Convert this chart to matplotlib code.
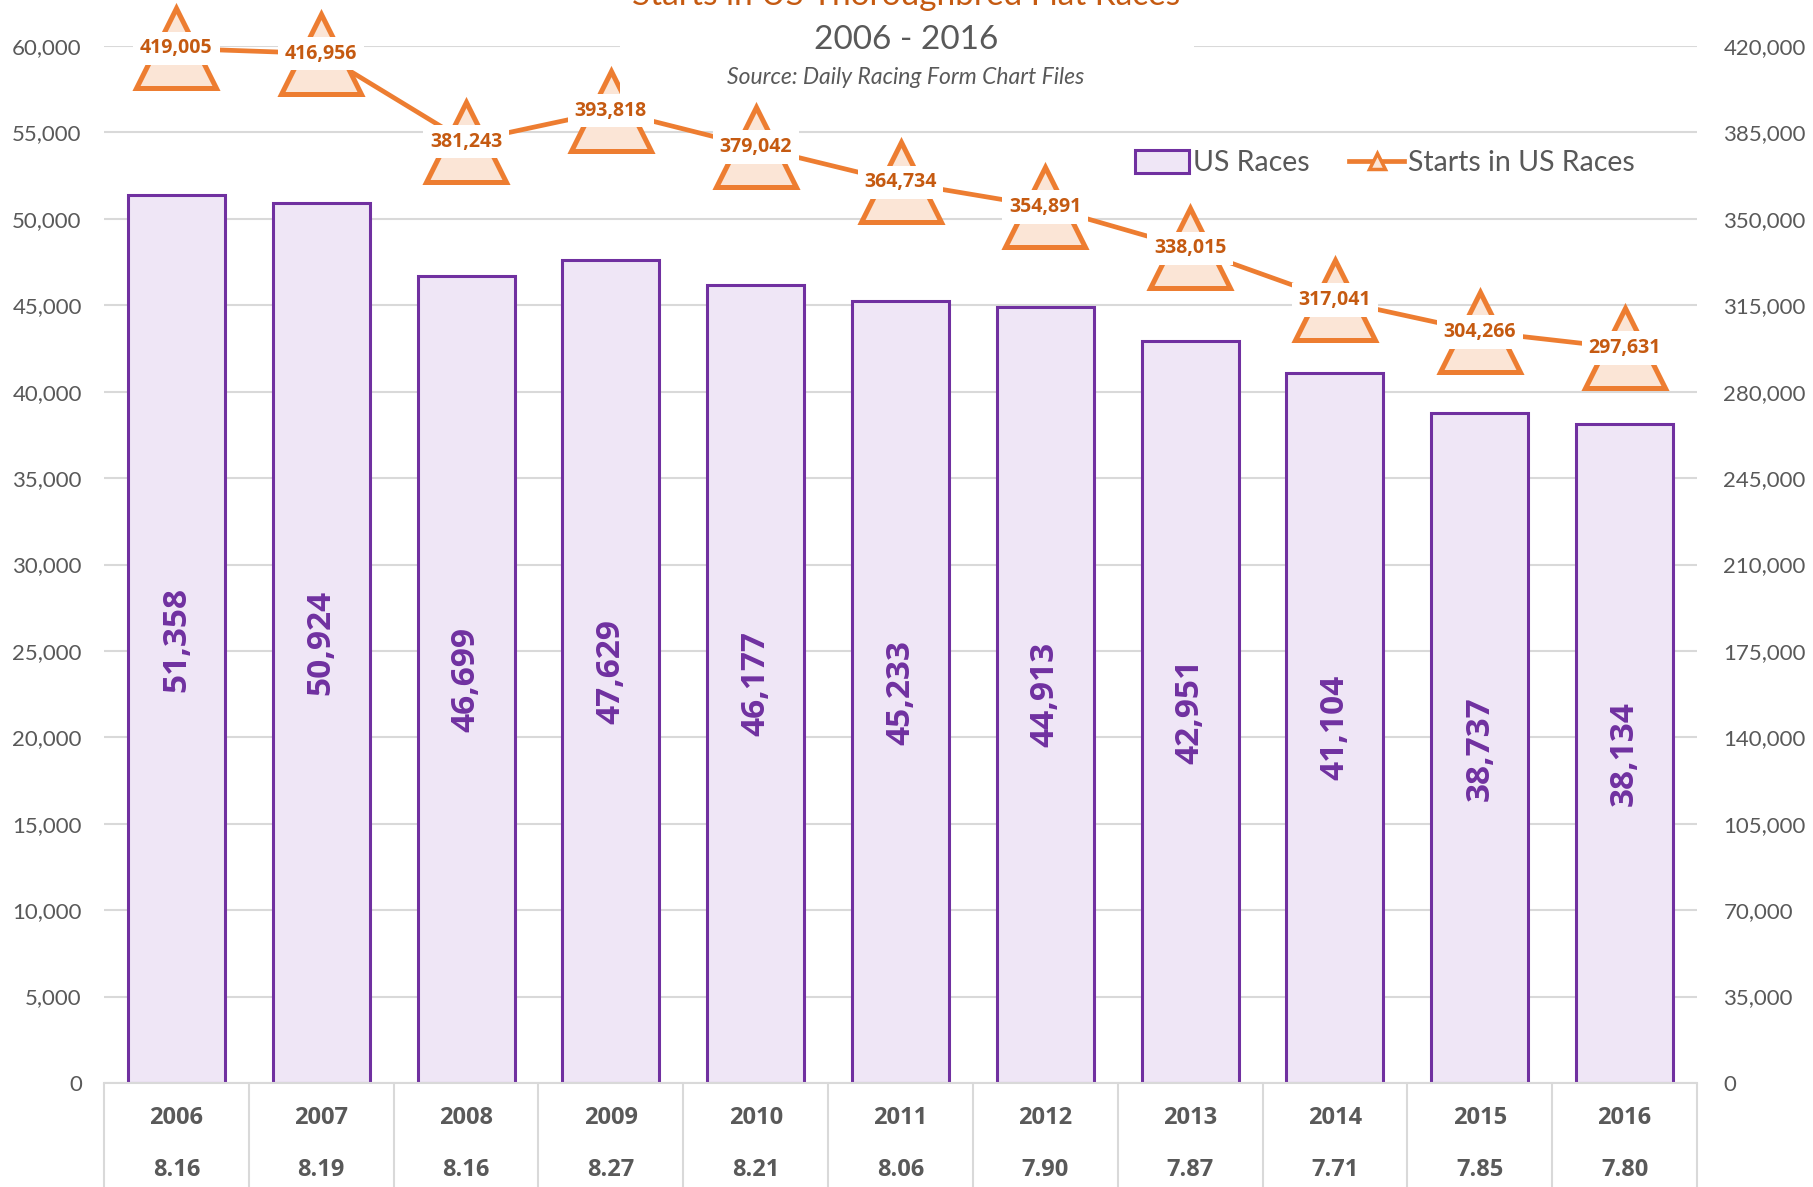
import numpy as np
import matplotlib
matplotlib.use("Agg")
import matplotlib.pyplot as plt
from matplotlib.ticker import FuncFormatter, MultipleLocator
from matplotlib.patches import Rectangle, Patch
from matplotlib.lines import Line2D

years = ["2006", "2007", "2008", "2009", "2010", "2011", "2012", "2013", "2014", "2015", "2016"]
races = [51358, 50924, 46699, 47629, 46177, 45233, 44913, 42951, 41104, 38737, 38134]
starts = [419005, 416956, 381243, 393818, 379042, 364734, 354891, 338015, 317041, 304266, 297631]
field_size = ["8.16", "8.19", "8.16", "8.27", "8.21", "8.06", "7.90", "7.87", "7.71", "7.85", "7.80"]

plt.rcParams['font.family'] = ['Lato', 'DejaVu Sans']
BOLD = ['Open Sans', 'DejaVu Sans']

W, H = 1813, 1187
fig = plt.figure(figsize=(W / 100, H / 100), dpi=100)
ax_left, ax_right, ax_bot, ax_top = 104, 1697, 1083, 46
ax = fig.add_axes([ax_left / W, 1 - ax_bot / H, (ax_right - ax_left) / W, (ax_bot - ax_top) / H])

GREY = '#595959'
PURPLE = '#7030A0'
ORANGE = '#ED7D31'
DORANGE = '#C55A11'

x = np.arange(len(years))
ax.bar(x, races, width=0.67, color='#EFE6F6', edgecolor=PURPLE, linewidth=2.2, zorder=2)
ax.set_xlim(-0.5, len(years) - 0.5)
ax.set_ylim(0, 60000)
ax.yaxis.set_major_locator(MultipleLocator(5000))
ax.yaxis.set_major_formatter(FuncFormatter(lambda v, p: f"{v:,.0f}"))
ax.grid(axis='y', color='#D9D9D9', linewidth=1.5)
ax.set_axisbelow(True)
for s in ['top', 'left', 'right']:
    ax.spines[s].set_visible(False)
ax.spines['bottom'].set_color('#D9D9D9')
ax.spines['bottom'].set_linewidth(1.5)
ax.tick_params(axis='y', length=0, pad=16, labelsize=16, labelcolor=GREY)
ax.set_xticks([])

for xi, v in zip(x, races):
    ax.text(xi, v / 2, f"{v:,}", rotation=90, ha='center', va='center',
            color=PURPLE, fontsize=24, fontweight='bold', family=BOLD, zorder=3)

xt = ax.get_xaxis_transform()
ax.vlines(np.arange(-0.5, len(years)), -0.12, 0, transform=xt, clip_on=False,
          color='#D9D9D9', linewidth=1.5)
for xi, yr, fs in zip(x, years, field_size):
    ax.text(xi, -35 / 1037, yr, transform=xt, ha='center', va='center',
            fontsize=17, fontweight='bold', family=BOLD, color=GREY)
    ax.text(xi, -87 / 1037, fs, transform=xt, ha='center', va='center',
            fontsize=17, fontweight='bold', family=BOLD, color=GREY)

ax2 = ax.twinx()
ax2.set_ylim(0, 420000)
ax2.yaxis.set_major_locator(MultipleLocator(35000))
ax2.yaxis.set_major_formatter(FuncFormatter(lambda v, p: f"{v:,.0f}"))
ax2.tick_params(axis='y', length=0, pad=19, labelsize=16, labelcolor=GREY)
for s in ['top', 'left', 'right', 'bottom']:
    ax2.spines[s].set_visible(False)
ax2.plot(x, starts, color=ORANGE, linewidth=3.4, marker='^', markersize=58,
         markerfacecolor='#FBE5D6', markeredgecolor=ORANGE, markeredgewidth=3.6,
         clip_on=False, zorder=2)

# white title box (under data labels)
ax2.add_patch(Rectangle((620 / W, 1 - 96 / H), 574 / W, 96 / H, transform=fig.transFigure,
                        facecolor='white', edgecolor='none', clip_on=False, zorder=3))

for xi, v in zip(x, starts):
    ax2.text(xi, v, f"{v:,}", ha='center', va='center', color=DORANGE, fontsize=14,
             fontweight='bold', family=BOLD, zorder=5,
             bbox=dict(boxstyle='square,pad=0.35', facecolor='white', edgecolor='none'))

fig.text(906 / W, 1 - 5 / H, "Starts in US Thoroughbred Flat Races", ha='center', va='baseline',
         fontsize=24, color=DORANGE, zorder=6)
fig.text(906 / W, 1 - 40 / H, "2006 - 2016", ha='center', va='center', fontsize=24,
         color=GREY, zorder=6)
fig.text(906 / W, 1 - 78 / H, "Source: Daily Racing Form Chart Files", ha='center', va='center',
         fontsize=16.5, style='italic', color=GREY, zorder=6)

handles = [Patch(facecolor='#EFE6F6', edgecolor=PURPLE, linewidth=2.2, label='US Races'),
           Line2D([], [], color=ORANGE, linewidth=3.4, marker='^', markersize=12,
                  markerfacecolor='#FBE5D6', markeredgecolor=ORANGE, markeredgewidth=2.5,
                  label='Starts in US Races')]
fig.legend(handles=handles, loc='center left', bbox_to_anchor=(1109 / W, 1 - 163 / H),
           ncol=2, frameon=False, fontsize=20.5, labelcolor=GREY, handlelength=1.9,
           handletextpad=0.15, columnspacing=1.4, handleheight=0.9)

fig.savefig('out.png', dpi=100)
